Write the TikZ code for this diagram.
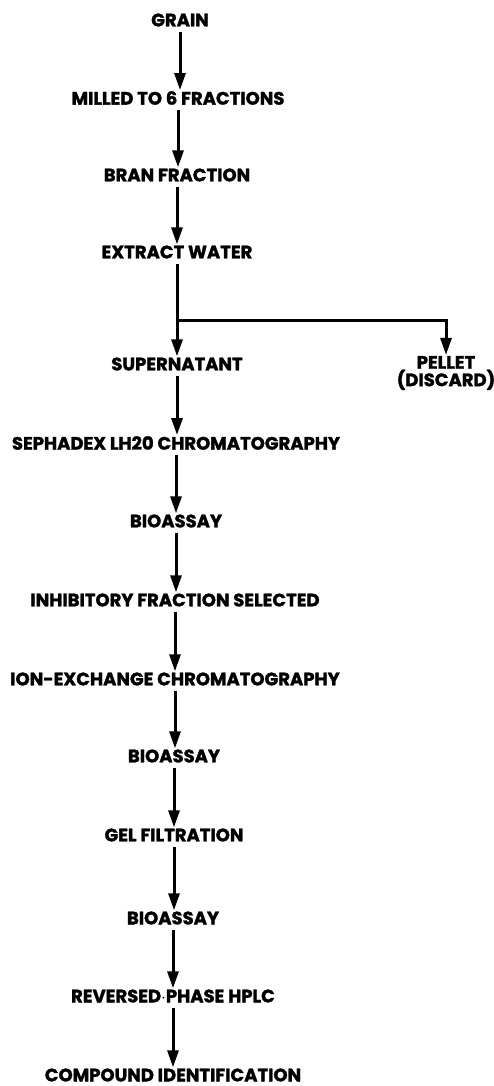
\documentclass[tikz,border=0pt]{standalone}
\usepackage{fontspec}
\setmainfont{Poppins}[BoldFeatures={FakeBold=1.6}]
\usetikzlibrary{arrows.meta}
\begin{document}
\begin{tikzpicture}[x=1pt,y=1pt,
  lbl/.style={inner sep=0pt, font=\fontsize{18}{14}\selectfont\bfseries, align=center},
  arr/.style={line width=3pt, -{Triangle[length=17pt,width=11pt]}, shorten <=5pt, shorten >=1pt}]
\useasboundingbox (0,0) rectangle (494,-1086);
\node[lbl] (grain)   at (180,-20)  {GRAIN};
\node[lbl] (milled)  at (178,-98)  {MILLED TO 6 FRACTIONS};
\node[lbl] (bran)    at (177,-175) {BRAN FRACTION};
\node[lbl] (extract) at (177,-252) {EXTRACT WATER};
\node[lbl] (super)   at (177,-364) {SUPERNATANT};
\node[lbl] (pellet)  at (446,-373) {PELLET\\(DISCARD)};
\node[lbl] (seph)    at (176,-443) {SEPHADEX LH20 CHROMATOGRAPHY};
\node[lbl] (bio1)    at (176,-521) {BIOASSAY};
\node[lbl] (inhib)   at (175,-600) {INHIBITORY FRACTION SELECTED};
\node[lbl] (ion)     at (175,-679) {ION-EXCHANGE CHROMATOGRAPHY};
\node[lbl] (bio2)    at (174,-756) {BIOASSAY};
\node[lbl] (gel)     at (174,-835) {GEL FILTRATION};
\node[lbl] (bio3)    at (173,-918) {BIOASSAY};
\node[lbl] (rev)     at (173,-996) {REVERSED$\cdot$PHASE HPLC};
\node[lbl] (comp)    at (173,-1075){COMPOUND IDENTIFICATION};
\coordinate (split) at (177,-320);
\draw[arr] (grain.south) -- (grain.south |- milled.north);
\draw[arr] (milled.south) -- (milled.south |- bran.north);
\draw[arr] (bran.south) -- (bran.south |- extract.north);
\draw[arr] (extract.south) -- (extract.south |- super.north);
\draw[arr, shorten <=0pt] (split) -| (pellet.north);
\draw[arr] (super.south) -- (super.south |- seph.north);
\draw[arr] (seph.south) -- (seph.south |- bio1.north);
\draw[arr] (bio1.south) -- (bio1.south |- inhib.north);
\draw[arr] (inhib.south) -- (inhib.south |- ion.north);
\draw[arr] (ion.south) -- (ion.south |- bio2.north);
\draw[arr] (bio2.south) -- (bio2.south |- gel.north);
\draw[arr] (gel.south) -- (gel.south |- bio3.north);
\draw[arr] (bio3.south) -- (bio3.south |- rev.north);
\draw[arr] (rev.south) -- (rev.south |- comp.north);
\end{tikzpicture}
\end{document}
